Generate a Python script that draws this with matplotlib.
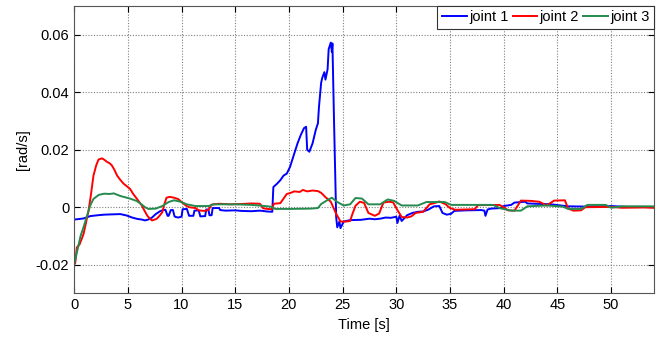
import numpy as np
from matplotlib import pyplot as plt

# joint velocities, values in 1e-3 rad/s
t1 = [0, 0.5, 0.9, 1.5, 2.2, 2.8, 3.5, 4.3, 4.9, 5.4,
      5.9, 6.3, 6.6, 6.9, 7.25, 7.6, 8.0, 8.3, 8.5, 8.7,
      8.8, 9.0, 9.2, 9.35, 9.45, 9.7, 10.0, 10.1, 10.5, 10.7,
      10.8, 11.1, 11.2, 11.6, 11.75, 12.2, 12.3, 12.5, 12.6, 12.8,
      12.9, 13.5, 13.6, 14.1, 15.0, 15.6, 16.5, 17.3, 18.0, 18.45,
      18.55, 18.9, 19.2, 19.5, 19.8, 20.1, 20.5, 20.8, 21.1, 21.4,
      21.6, 21.7, 21.9, 22.2, 22.5, 22.7, 22.8, 23.0, 23.1, 23.3,
      23.4, 23.6, 23.7, 23.9, 24.0, 24.05, 24.2, 24.4, 24.5, 24.7,
      24.8, 25.1, 25.7, 26.7, 27.5, 28.0, 28.5, 29.0, 29.5, 30.0,
      30.1, 30.3, 30.5, 31.0, 31.5, 32.0, 32.5, 33.0, 33.5, 34.0,
      34.3, 34.7, 35.1, 35.4, 36.5, 37.9, 38.2, 38.3, 38.5, 38.8,
      39.7, 40.0, 40.7, 41.0, 42.0, 42.2, 44.4, 46, 48, 50,
      51.5, 53, 54]
v1 = [-4.3, -4.1, -3.9, -3.1, -2.8, -2.6, -2.5, -2.4, -2.9, -3.6,
      -4.1, -4.3, -4.6, -4.3, -3.6, -2.4, -1.4, -1.0, -0.9, -3.0,
      -3.0, -1.0, -1.0, -3.2, -3.4, -3.6, -3.3, -0.7, -0.6, -3.0,
      -3.0, -3.0, -1.2, -1.1, -3.2, -3.1, -0.8, -0.8, -2.8, -2.8,
      -0.3, -0.3, -1.0, -1.2, -1.1, -1.3, -1.4, -1.2, -1.5, -1.6,
      7.0, 8.2, 9.4, 11.0, 11.7, 14.0, 18.7, 22.2, 25.1, 27.5,
      28.0, 20.0, 19.3, 22.2, 26.9, 29.2, 35.0, 43.3, 45.0, 47.0,
      44.4, 48.0, 55.0, 57.3, 54.0, 57.0, 30.0, -3.5, -7.0, -5.0,
      -7.3, -5.0, -4.5, -4.4, -4.0, -4.2, -4.0, -3.6, -3.7, -3.3,
      -5.5, -3.0, -4.8, -2.8, -2.0, -1.6, -1.5, -0.8, 0.3, 0.4,
      -2.0, -2.6, -2.3, -1.3, -1.1, -1.0, -1.2, -3.0, -0.8, -0.5,
      -0.3, 0.4, 0.8, 1.6, 1.9, 1.3, 1.0, 0.3, 0.2, 0.4,
      0.1, 0.1, 0.0]

t2 = [0, 0.1, 0.25, 0.5, 0.87, 1.1, 1.34, 1.55, 1.8, 2.05,
      2.27, 2.6, 2.85, 3.05, 3.3, 3.5, 3.75, 4.0, 4.3, 4.6,
      4.9, 5.2, 5.5, 5.85, 6.1, 6.3, 6.55, 6.8, 7.05, 7.25,
      7.5, 7.7, 7.95, 8.2, 8.4, 8.6, 8.9, 9.3, 9.7, 10.0,
      10.4, 10.7, 11.3, 11.6, 12.1, 12.5, 12.8, 13.5, 14.5, 15.5,
      16.5, 17.3, 17.6, 18.0, 18.4, 18.6, 19.2, 19.5, 19.8, 20.1,
      20.5, 21.0, 21.3, 21.7, 22.2, 22.7, 23.0, 23.4, 23.9, 24.4,
      24.8, 25.3, 25.7, 25.9, 26.2, 26.6, 27.0, 27.4, 28.0, 28.4,
      28.8, 29.3, 29.7, 30.1, 30.5, 31.0, 31.4, 31.8, 32.5, 33.1,
      33.7, 34.0, 34.6, 35.0, 35.5, 37.3, 37.6, 39.6, 40.0, 40.4,
      41.0, 41.3, 41.6, 42.5, 43.3, 44.0, 44.7, 45.7, 46.0, 46.5,
      47.2, 47.6, 50, 51, 53, 54]
v2 = [-19.9, -19.5, -14.0, -13.0, -9.4, -5.5, -1.2, 4.0, 11.0, 14.5,
      16.6, 17.0, 16.4, 15.8, 15.3, 14.6, 13.0, 11.0, 9.5, 8.2,
      7.3, 6.4, 4.6, 2.9, 1.6, 0.6, -1.2, -2.9, -4.0, -4.6,
      -4.3, -4.0, -3.0, -1.8, 1.0, 3.3, 3.6, 3.3, 2.8, 1.8,
      0.6, 0.0, -0.3, -1.1, -1.3, -1.0, 0.9, 1.2, 1.0, 1.1,
      1.3, 1.2, -0.4, -0.6, -0.7, 1.2, 1.4, 3.0, 4.6, 4.9,
      5.5, 5.3, 6.0, 5.5, 5.8, 5.6, 5.0, 3.5, 1.9, -2.3,
      -5.0, -5.0, -4.8, -2.5, 0.5, 1.9, 1.5, -2.0, -3.0, -2.2,
      1.6, 1.9, 1.7, -1.0, -3.4, -3.6, -3.2, -2.0, -1.6, 1.0,
      1.6, 2.0, 1.0, -0.3, -0.9, -0.7, 0.7, 0.8, 0.0, -1.1,
      -1.2, 0.5, 2.3, 2.2, 1.9, 0.6, 2.3, 2.4, -0.5, -1.2,
      -1.1, 0.0, 0.1, -0.2, -0.1, -0.2]

t3 = [0, 0.3, 0.6, 0.87, 1.2, 1.5, 1.8, 2.3, 2.8, 3.3,
      3.7, 4.3, 5.2, 5.8, 6.2, 6.6, 6.9, 7.6, 8.2, 8.8,
      9.3, 9.9, 10.5, 11.3, 12.5, 13.0, 15.0, 16.5, 17.5, 18.3,
      18.7, 20.0, 22.0, 22.7, 23.0, 23.6, 24.0, 24.5, 25.1, 25.7,
      26.2, 26.8, 27.4, 28.5, 29.2, 29.8, 30.5, 32.0, 32.8, 34.5,
      35.1, 37.0, 39.0, 39.7, 40.7, 41.6, 42.2, 44.0, 45.5, 46.0,
      47.2, 47.8, 49.5, 50.0, 51.0, 54]
v3 = [-19.9, -15.0, -10.0, -7.0, -3.0, 0.6, 2.9, 4.3, 4.7, 4.6,
      4.8, 3.9, 3.0, 2.2, 1.2, 0.0, -0.6, -0.5, 0.4, 1.8,
      2.4, 1.9, 1.0, 0.4, 0.4, 1.0, 1.0, 0.8, 0.5, 0.2,
      -0.6, -0.6, -0.5, -0.3, 1.1, 2.5, 3.3, 1.8, 0.6, 1.0,
      3.2, 3.0, 1.0, 1.0, 2.7, 2.2, 0.6, 0.6, 1.8, 1.8,
      0.8, 0.8, 0.8, -0.4, -1.2, -1.2, 0.3, 0.6, 0.2, -0.6,
      -0.6, 0.8, 0.8, -0.2, 0.3, 0.3]

labels = ['joint 1', 'joint 2', 'joint 3']
colors = ['#0000ff', '#ff0000', '#248a4e']
yticks = [-0.02, 0, 0.02, 0.04, 0.06]
yticklabels = ['-0.02', '0', '0.02', '0.04', '0.06']

plt.rcParams['font.family'] = ['Liberation Sans', 'DejaVu Sans']
plt.rcParams['font.size'] = 10

fig = plt.figure(figsize=(6.62, 3.38), dpi=100)
ax = fig.add_axes([0.112, 0.132, 0.876, 0.85])

for t, v, lab, c in zip([t1, t2, t3], [v1, v2, v3], labels, colors):
    ax.plot(t, np.array(v) / 1000, color=c, lw=1.4, label=lab)

ax.set_xlim(0, 54)
ax.set_ylim(-0.03, 0.07)
ax.set_xticks(range(0, 55, 5))
ax.set_yticks(yticks)
ax.set_yticklabels(yticklabels)
ax.grid(True, ls=(0, (1, 1.5)), color='#808080', lw=0.8)
ax.tick_params(direction='in', top=True, right=True, length=4, labelsize=10.5)
for s in ax.spines.values():
    s.set_color('#555555')

ax.set_xlabel('Time [s]', fontsize=10.5, labelpad=4)
ax.set_ylabel('[rad/s]', fontsize=10.5)

leg = ax.legend(loc='upper right', ncol=3, borderaxespad=0, fancybox=False,
                handlelength=1.7, handletextpad=0.15, columnspacing=0.3,
                borderpad=0.3, fontsize=10.5, framealpha=1)
leg.get_frame().set_edgecolor('#333333')
leg.get_frame().set_linewidth(0.8)

plt.savefig('out.png', dpi=100)
